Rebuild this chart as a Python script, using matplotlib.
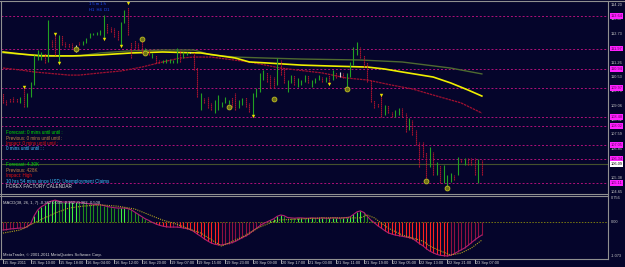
import matplotlib
matplotlib.use("Agg")
import matplotlib.pyplot as plt
from matplotlib.lines import Line2D

W, H = 625, 267
BG = "#05052b"
plt.rcParams["font.family"] = ["Liberation Sans", "DejaVu Sans"]

# hourly bars (high / low, direction g=up r=down w=doji)
highs = [109.70, 109.35, 109.45, 109.50, 109.45, 109.50, 109.96, 109.70, 110.27, 111.65,
         111.90, 111.80, 111.75, 113.43, 112.41, 112.67, 112.67, 112.67, 112.31, 112.26,
         112.26, 112.16, 112.31, 112.36, 112.51, 112.77, 112.77, 112.82, 112.92, 113.69,
         113.28, 113.08, 113.02, 112.92, 113.33, 113.94, 114.10, 112.31, 112.41, 112.26,
         112.46, 112.00, 111.90, 111.75, 111.65, 111.39, 111.39, 111.44, 111.44, 111.39,
         112.00, 111.90, 111.80, 111.80, 111.80, 111.80, 111.03, 109.70, 109.45, 109.50,
         109.20, 109.35, 109.60, 109.25, 109.50, 109.35, 109.50, 109.70, 109.35, 109.45,
         109.50, 109.20, 109.70, 109.96, 110.73, 110.88, 110.78, 110.62, 110.52, 111.49,
         111.39, 111.03, 110.37, 110.62, 110.62, 110.47, 110.37, 110.62, 110.62, 110.37,
         110.47, 110.62, 110.52, 110.52, 110.62, 110.88, 110.78, 110.78, 110.73, 110.73,
         111.29, 112.05, 112.31, 112.05, 111.65, 111.29, 110.37, 109.35, 109.20, 109.60,
         109.09, 109.09, 108.74, 108.84, 108.94, 108.94, 108.68, 108.43, 108.33, 107.82,
         107.20, 107.20, 106.69, 106.95, 106.69, 106.18, 106.03, 106.03, 105.52, 105.62,
         105.52, 106.44, 106.39, 106.39, 106.39, 106.39, 106.39, 106.34, 106.28]
lows = [109.20, 109.09, 109.25, 109.25, 109.25, 109.20, 108.99, 108.99, 109.50, 110.11,
        111.39, 111.39, 111.24, 111.29, 112.05, 111.65, 111.29, 112.16, 112.05, 112.05,
        112.00, 111.80, 112.16, 112.16, 112.26, 112.51, 112.67, 112.67, 112.67, 112.51,
        112.77, 112.82, 112.57, 112.41, 112.16, 113.28, 112.67, 111.49, 112.00, 111.90,
        111.75, 111.75, 111.65, 111.49, 111.24, 111.24, 111.24, 111.24, 111.24, 111.24,
        111.24, 111.29, 111.49, 111.65, 111.75, 110.88, 109.50, 108.84, 109.20, 108.94,
        108.84, 108.68, 108.84, 108.99, 109.20, 109.14, 108.99, 108.84, 108.94, 109.09,
        108.99, 108.74, 108.58, 109.50, 109.76, 110.37, 110.27, 109.96, 109.96, 110.11,
        110.62, 110.22, 109.76, 110.22, 110.11, 110.01, 110.11, 110.27, 110.22, 110.01,
        110.22, 110.37, 110.27, 110.27, 110.22, 110.37, 110.47, 110.52, 110.47, 109.86,
        110.52, 111.13, 111.65, 111.49, 111.03, 110.27, 109.25, 108.94, 108.99, 108.48,
        108.58, 108.68, 108.48, 108.48, 108.58, 108.48, 107.71, 107.82, 107.56, 107.05,
        105.93, 106.44, 105.26, 105.93, 105.52, 105.52, 105.11, 105.11, 104.85, 105.16,
        105.26, 105.52, 106.18, 106.03, 106.03, 106.03, 105.52, 105.11, 105.52]
direction = ("rrrrrgrggg" "ggrgrrgrrr" "rwrggggggg" "rrrrggrrrr" "rgrgrrgggg"
             "grggwrrgrr" "rgggggrrgg" "rrggggrrrg" "rrggrgggrg" "ggrgrgrwrg"
             "gggrrrrrrr" "grrggrrgrr" "rrrgrgrggg" "rgrgrrrgr")

# moving averages (bar index, price)
ma_yellow_x = [0, 5, 11, 20, 28, 37, 46, 57, 67, 71, 76, 86, 95, 105, 110, 115, 124, 129, 134, 138]
ma_yellow_y = [111.80, 111.70, 111.60, 111.60, 111.65, 111.75, 111.80, 111.75, 111.49, 111.29,
               111.24, 111.13, 111.08, 111.03, 110.93, 110.78, 110.52, 110.22, 109.86, 109.55]
ma_olive_x = [0, 8, 17, 22, 28, 36, 46, 55, 60, 67, 76, 86, 103, 115, 129, 138]
ma_olive_y = [111.75, 111.65, 111.60, 111.60, 111.75, 111.85, 111.90, 111.90, 111.65, 111.54,
              111.49, 111.44, 111.39, 111.29, 110.98, 110.68]
ma_red_x = [0, 5, 9, 19, 22, 28, 34, 40, 46, 51, 55, 60, 71, 80, 92, 99, 105, 112, 118, 124, 132, 138]
ma_red_y = [110.98, 110.88, 110.78, 110.62, 110.62, 110.73, 110.83, 111.03, 111.29, 111.49, 111.54,
            111.54, 111.29, 110.98, 110.73, 110.47, 110.37, 110.11, 109.91, 109.60, 109.20, 108.68]

# horizontal levels and markers
levels = [113.64, 111.97, 110.94, 109.97, 108.48, 108.02, 107.05, 106.34, 105.11]
bid = 106.09
price_ticks = [114.20, 113.47, 112.73, 112.00, 111.26, 110.53, 109.79, 109.06,
               108.32, 107.59, 106.85, 106.12, 105.38, 104.65]
arrow_bars = [6, 15, 36, 16, 29, 34, 72, 94, 109]
arrow_prices = [110.00, 112.70, 114.30, 111.22, 112.45, 112.10, 108.55, 110.18, 109.62]
circle_bars = [40, 41, 21, 65, 78, 99, 122, 128]
circle_prices = [112.46, 111.75, 111.95, 108.99, 109.40, 109.91, 105.21, 104.85]

# MACD histogram and signal
macd = [-0.25, -0.24, -0.22, -0.21, -0.20, -0.19, -0.19, -0.15, -0.05, 0.20,
        0.38, 0.48, 0.54, 0.62, 0.66, 0.69, 0.66, 0.63, 0.63, 0.63,
        0.63, 0.63, 0.62, 0.60, 0.59, 0.57, 0.56, 0.55, 0.54, 0.52,
        0.49, 0.47, 0.45, 0.44, 0.44, 0.44, 0.42, 0.38, 0.31, 0.24,
        0.17, 0.10, 0.05, -0.01, -0.06, -0.10, -0.13, -0.15, -0.16, -0.16,
        -0.16, -0.17, -0.19, -0.21, -0.24, -0.30, -0.38, -0.45, -0.53, -0.60,
        -0.66, -0.70, -0.72, -0.72, -0.70, -0.68, -0.65, -0.61, -0.55, -0.49,
        -0.44, -0.37, -0.28, -0.20, -0.12, -0.05, 0.00, 0.05, 0.10, 0.18,
        0.22, 0.20, 0.14, 0.13, 0.12, 0.13, 0.13, 0.12, 0.12, 0.13,
        0.12, 0.12, 0.13, 0.12, 0.12, 0.13, 0.13, 0.12, 0.13, 0.14,
        0.16, 0.24, 0.32, 0.35, 0.30, 0.18, 0.06, -0.02, -0.12, -0.19,
        -0.27, -0.34, -0.38, -0.41, -0.43, -0.45, -0.47, -0.49, -0.52, -0.60,
        -0.68, -0.75, -0.84, -0.92, -0.97, -1.02, -1.05, -1.06, -1.07, -1.05,
        -1.00, -0.94, -0.88, -0.82, -0.74, -0.65, -0.56, -0.48, -0.41]
signal_x = [0, 5, 9, 12, 15, 19, 23, 28, 33, 38, 43, 46, 49, 57, 63, 69, 74, 79, 92,
            103, 105, 107, 111, 115, 121, 123, 126, 129, 132, 135, 138]
signal_y = [-0.35, -0.25, -0.03, 0.13, 0.28, 0.44, 0.50, 0.54, 0.50, 0.41, 0.19, 0.06, -0.03,
            -0.35, -0.76, -0.47, -0.16, 0.06, 0.13, 0.13, 0.22, 0.13, -0.19, -0.41, -0.60,
            -0.76, -0.91, -1.04, -0.98, -0.82, -0.57]

time_labels = ["15 Sep 2011", "15 Sep 10:00", "15 Sep 18:00", "16 Sep 04:00", "16 Sep 12:00",
               "16 Sep 20:00", "19 Sep 07:00", "19 Sep 15:00", "19 Sep 23:00", "20 Sep 09:00",
               "20 Sep 17:00", "21 Sep 03:00", "21 Sep 11:00", "21 Sep 19:00", "22 Sep 05:00",
               "22 Sep 13:00", "22 Sep 21:00", "23 Sep 07:00"]

news_lines = ["Forecast: 0 mins until until :", "Previous: 0 mins until until :",
              "Impact: 0 mins until until :", "0 mins until until : :",
              "Forecast: 4.30K", "Previous: 428K", "Impact: High",
              "10 hrs 54 mins since USD: Unemployment Claims", "FOREX FACTORY CALENDAR"]
news_colors = ["#00e000", "#c08040", "#e01010", "#40c0ff",
               "#00e000", "#c08040", "#e01010", "#40c0ff", "#e0e0e0"]


def rect(x0, y0, x1, y1):
    return [x0 / W, 1 - y1 / H, (x1 - x0) / W, (y1 - y0) / H]


def fline(x0, y0, x1, y1, color="#909090", lw=0.8):
    fig.add_artist(Line2D([x0 / W, x1 / W], [1 - y0 / H, 1 - y1 / H], color=color, lw=lw))


fig = plt.figure(figsize=(W / 100, H / 100), dpi=100)
fig.patch.set_facecolor(BG)
ax = fig.add_axes(rect(1, 2, 608, 193))
mx = fig.add_axes(rect(1, 197, 608, 259))
step = 3.47
for a in (ax, mx):
    a.set_facecolor(BG)
    a.set_xticks([])
    a.set_yticks([])
    for s in a.spines.values():
        s.set_visible(False)
    a.set_xlim(-2 / step, -2 / step + 607 / step)
ax.set_ylim(104.598, 114.353)
mx.set_ylim(-1.166, 0.788)

idx = list(range(len(highs)))

# levels and current price
for lv in levels:
    ax.axhline(lv, color="#b0107a", lw=0.7, ls=(0, (2, 2)), zorder=1)
ax.axhline(bid, color="#45522c", lw=0.8, zorder=1)

# moving averages
ax.plot(ma_red_x, ma_red_y, color="#a01030", lw=0.9, ls=(0, (2, 0.6)), zorder=2)
ax.plot(ma_olive_x, ma_olive_y, color="#4e6a30", lw=1.0, zorder=2)
ax.plot(ma_yellow_x, ma_yellow_y, color="#f0f000", lw=1.2, zorder=3)

# bars
styles = {"g": ("#22a022", "solid"), "r": ("#c0142e", (0, (1.2, 0.6))), "w": ("#d8d8d8", "solid")}
for key, (col, ls) in styles.items():
    xs = [i for i in idx if direction[i] == key]
    ax.vlines(xs, [lows[i] for i in xs], [highs[i] for i in xs], colors=col,
              linestyles=ls, lw=0.8, zorder=4)

ax.scatter(arrow_bars, arrow_prices, marker="v", s=6, color="#e8e000", zorder=5, lw=0)
ax.scatter(circle_bars, circle_prices, marker="o", s=12, facecolor="#707018",
           edgecolor="#c0c020", lw=0.6, zorder=5)

# price scale
FS = 2.8
ytr = ax.get_yaxis_transform()
for v in price_ticks:
    ax.text(1.004, v, f"{v:.2f}", transform=ytr, color="#c8c8c8", fontsize=FS,
            va="center", ha="left", clip_on=False)
for lv in levels:
    ax.text(1.004, lv, f"{lv:.2f}", transform=ytr, color="#5a005a", fontsize=FS,
            va="center", ha="left", clip_on=False, zorder=10,
            bbox=dict(boxstyle="square,pad=0.2", fc="#ff20ff", ec="none"))
ax.text(1.004, bid, f"{bid:.2f}", transform=ytr, color="#000000", fontsize=FS,
        va="center", ha="left", clip_on=False, zorder=10,
        bbox=dict(boxstyle="square,pad=0.2", fc="#ffffff", ec="none"))

# MACD
cols = []
for i, v in enumerate(macd):
    prev = macd[i - 1] if i else v
    if v >= 0:
        cols.append("#40f040" if v >= prev else "#1e8a1e")
    else:
        cols.append("#ff2020" if v < prev else "#901040")
mx.axhline(0, color="#7a7a10", lw=0.7, ls=(0, (1.5, 1.5)))
mx.vlines(idx, 0, macd, colors=cols, lw=0.8)
mx.plot(idx, macd, color="#b02070", lw=0.8)
mx.plot(signal_x, signal_y, color="#b0a020", lw=0.8, ls=(0, (1, 1)))
mtr = mx.get_yaxis_transform()
for v, s in [(0.756, "0.756"), (0.0, "0.00"), (-1.073, "-1.073")]:
    mx.text(1.004, v, s, transform=mtr, color="#c8c8c8", fontsize=FS, va="center",
            ha="left", clip_on=False)
mx.text(0.004, 0.93, "MACD(38, 26, 1, 7) -0.362 0.000 -0.362 -0.362 -0.508",
        transform=mx.transAxes, color="#d8d8d8", fontsize=3.0, va="top")
mx.text(0.004, 0.03, "MetaTrader, \u00a9 2001-2011 MetaQuotes Software Corp.",
        transform=mx.transAxes, color="#d8d8d8", fontsize=3.0, va="bottom")

# time axis
xtr = mx.get_xaxis_transform()
for k, lab in enumerate(time_labels):
    b = 8 * k
    mx.plot([b, b], [0, -0.07], transform=xtr, color="#c8c8c8", lw=0.6, clip_on=False)
    mx.text(b + 0.3, -0.03, lab, transform=xtr, color="#d8d8d8", fontsize=FS,
            va="top", ha="left", clip_on=False)

# news text block
news_y = [132, 138, 143, 148, 165, 171, 176, 181, 187]
for txt, col, yy in zip(news_lines, news_colors, news_y):
    fig.text(6 / W, 1 - yy / H, txt, color=col, fontsize=3.3, va="center")

# small header glyphs
fig.text(89 / W, 1 - 4 / H, "1 5 m 1 h", color="#2050ff", fontsize=3.0, va="center")
fig.text(89 / W, 1 - 10 / H, "H1  H4  D1", color="#2050ff", fontsize=3.0, va="center")

# frame lines
fline(0, 1, 625, 1)
fline(0.5, 1, 0.5, 259)
fline(608, 1, 608, 259)
fline(0, 194, 608, 194)
fline(0, 196, 608, 196)
fline(0, 259, 608, 259)

fig.savefig("out.png", dpi=100, facecolor=BG)
